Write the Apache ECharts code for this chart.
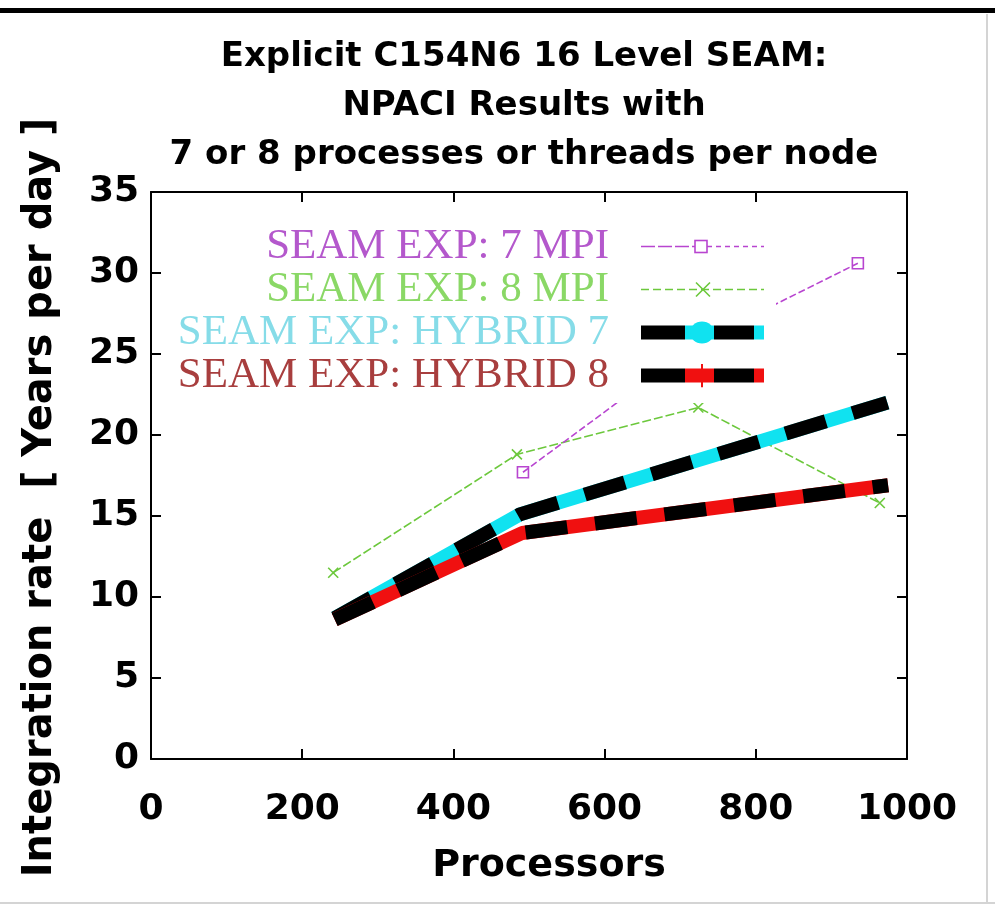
<!DOCTYPE html>
<html><head><meta charset="utf-8">
<script src="https://cdn.jsdelivr.net/npm/echarts@6/dist/echarts.min.js"></script>
<style>html,body{margin:0;padding:0;background:#fff}#c{width:995px;height:906px}</style>
</head><body><div id="c"></div>
<script>
// ---- data ----
const xTicks = [0, 200, 400, 600, 800, 1000];
const yTicks = [0, 5, 10, 15, 20, 25, 30, 35];
const seriesNames = ['SEAM EXP: 7 MPI', 'SEAM EXP: 8 MPI', 'SEAM EXP: HYBRID 7', 'SEAM EXP: HYBRID 8'];
const mpi7 = [[492, 17.7], [724, 25.7], [935, 30.6]];
const mpi8 = [[241, 11.5], [484, 18.8], [724, 21.7], [964, 15.8]];
const hybrid7 = [[243, 8.7], [488, 15.1], [974, 22.0]];
const hybrid8 = [[243, 8.6], [491, 13.95], [975, 16.9]];
const titleLines = ['Explicit C154N6 16 Level SEAM:', 'NPACI Results with', '7 or 8 processes or threads per node'];

// ---- styles ----
const C_MAG = '#b845d0', C_GRN = '#6cc83c', C_CYA = '#10e2f0', C_RED = '#f01010';
const TXT_COL = ['#b458cc', '#8ad866', '#86dce8', '#a83e3e'];
const SANS = 'DejaVu Sans';

function svgIcon(body) {
  const s = "<svg xmlns='http://www.w3.org/2000/svg' width='150' height='24' viewBox='0 0 150 24'>" + body + "</svg>";
  return 'image://data:image/svg+xml;charset=utf-8,' + encodeURIComponent(s);
}
const icons = [
  svgIcon("<line x1='27' y1='12' x2='81' y2='12' stroke='" + C_MAG + "' stroke-width='1.6' stroke-dasharray='14,3'/>" +
          "<rect x='81' y='6' width='12' height='12' fill='none' stroke='" + C_MAG + "' stroke-width='1.6'/>" +
          "<line x1='93' y1='12' x2='150' y2='12' stroke='" + C_MAG + "' stroke-width='1.6' stroke-dasharray='5,4'/>"),
  svgIcon("<line x1='27' y1='12' x2='150' y2='12' stroke='" + C_GRN + "' stroke-width='1.6' stroke-dasharray='8,4'/>" +
          "<path d='M82 5 L96 19 M96 5 L82 19' stroke='" + C_GRN + "' stroke-width='1.6'/>"),
  svgIcon("<rect x='27' y='5' width='44' height='14' fill='#000'/>" +
          "<rect x='71' y='5' width='29' height='14' fill='" + C_CYA + "'/>" +
          "<ellipse cx='88' cy='12' rx='12' ry='11' fill='" + C_CYA + "'/>" +
          "<rect x='100' y='5' width='40' height='14' fill='#000'/>" +
          "<rect x='140' y='5' width='10' height='14' fill='" + C_CYA + "'/>"),
  svgIcon("<rect x='27' y='5' width='44' height='14' fill='#000'/>" +
          "<rect x='71' y='5' width='29' height='14' fill='" + C_RED + "'/>" +
          "<rect x='87' y='0' width='2' height='24' fill='" + C_RED + "'/>" +
          "<rect x='100' y='5' width='40' height='14' fill='#000'/>" +
          "<rect x='140' y='5' width='10' height='14' fill='" + C_RED + "'/>")
];

const yStep = yTicks[1] - yTicks[0];
const xStep = xTicks[1] - xTicks[0];
const axisBase = {
  type: 'value',
  splitLine: { show: false },
  axisLine: { show: true, onZero: false, lineStyle: { color: '#000', width: 2 } },
  axisTick: { show: true, inside: true, length: 10, lineStyle: { color: '#000', width: 2 } }
};

const chart = echarts.init(document.getElementById('c'), null, { renderer: 'canvas' });
chart.setOption({
  animation: false,
  backgroundColor: '#fff',
  title: {
    text: titleLines.join('\n'),
    left: 524, top: 33, textAlign: 'center', padding: 0,
    textStyle: { fontFamily: SANS, fontWeight: 'bold', fontSize: 34, lineHeight: 49, color: '#000' }
  },
  grid: { left: 151, right: 88, top: 192, bottom: 147, containLabel: false },
  legend: {
    orient: 'vertical', align: 'right', right: 219, top: 219,
    padding: [6, 12, 6, 8], itemGap: 0, itemWidth: 150, itemHeight: 24,
    backgroundColor: '#fff', selectedMode: false,
    textStyle: { fontFamily: 'Liberation Serif', fontSize: 43, lineHeight: 43 },
    data: seriesNames.map((n, i) => ({ name: n, icon: icons[i], textStyle: { color: TXT_COL[i] } }))
  },
  graphic: [
    { type: 'rect', shape: { x: 0, y: 8, width: 995, height: 5 }, style: { fill: '#000' }, silent: true },
    { type: 'line', shape: { x1: 987, y1: 14, x2: 987, y2: 903 }, style: { stroke: '#d4d4d4', lineWidth: 2 }, silent: true },
    { type: 'line', shape: { x1: 0, y1: 903, x2: 995, y2: 903 }, style: { stroke: '#d4d4d4', lineWidth: 2 }, silent: true }
  ],
  xAxis: [
    Object.assign({}, axisBase, {
      position: 'bottom', min: xTicks[0], max: xTicks[xTicks.length - 1], interval: xStep,
      name: 'Processors', nameLocation: 'middle', nameGap: 88,
      nameTextStyle: { fontFamily: SANS, fontWeight: 'bold', fontSize: 38, color: '#000', padding: [0, 0, 0, 40] },
      axisLabel: { margin: 33, fontFamily: SANS, fontWeight: 'bold', fontSize: 36, color: '#000',
                   formatter: v => String(v) }
    }),
    Object.assign({}, axisBase, {
      position: 'top', min: xTicks[0], max: xTicks[xTicks.length - 1], interval: xStep,
      axisLabel: { show: false }
    })
  ],
  yAxis: [
    Object.assign({}, axisBase, {
      position: 'left', min: yTicks[0], max: yTicks[yTicks.length - 1], interval: yStep,
      name: 'Integration rate  [ Years per day ]', nameLocation: 'middle', nameGap: 90,
      nameTextStyle: { fontFamily: SANS, fontWeight: 'bold', fontSize: 40, color: '#000', padding: [0, 44, 0, 0] },
      axisLabel: { margin: 12, fontFamily: SANS, fontWeight: 'bold', fontSize: 36, color: '#000',
                   formatter: v => String(v) }
    }),
    Object.assign({}, axisBase, {
      position: 'right', min: yTicks[0], max: yTicks[yTicks.length - 1], interval: yStep,
      axisLabel: { show: false }
    })
  ],
  series: [
    {
      name: seriesNames[1], type: 'line', data: mpi8, xAxisIndex: 0, yAxisIndex: 0,
      symbol: 'path://M0,0L10,10M10,0L0,10', symbolSize: 10,
      itemStyle: { color: 'rgba(0,0,0,0)', borderColor: C_GRN, borderWidth: 1.6 },
      lineStyle: { color: C_GRN, width: 1.6, type: [9, 3] }, z: 2
    },
    {
      name: seriesNames[0], type: 'line', data: mpi7, xAxisIndex: 0, yAxisIndex: 0,
      symbol: 'rect', symbolSize: 11,
      itemStyle: { color: 'rgba(255,255,255,0)', borderColor: C_MAG, borderWidth: 1.6 },
      lineStyle: { color: C_MAG, width: 1.6, type: [7, 3] }, z: 2
    },
    {
      name: seriesNames[2], type: 'line', data: hybrid7, xAxisIndex: 0, yAxisIndex: 0,
      symbol: 'none', lineStyle: { color: C_CYA, width: 14, cap: 'butt' }, z: 3
    },
    {
      name: 'hybrid7-dash', type: 'line', data: hybrid7, xAxisIndex: 0, yAxisIndex: 0,
      symbol: 'none', lineStyle: { color: '#000', width: 14, type: [42, 28], cap: 'butt' }, z: 3
    },
    {
      name: seriesNames[3], type: 'line', data: hybrid8, xAxisIndex: 0, yAxisIndex: 0,
      symbol: 'none', lineStyle: { color: C_RED, width: 14, cap: 'butt' }, z: 3
    },
    {
      name: 'hybrid8-dash', type: 'line', data: hybrid8, xAxisIndex: 0, yAxisIndex: 0,
      symbol: 'none', lineStyle: { color: '#000', width: 14, type: [42, 28], cap: 'butt' }, z: 3
    }
  ]
});
</script></body></html>
